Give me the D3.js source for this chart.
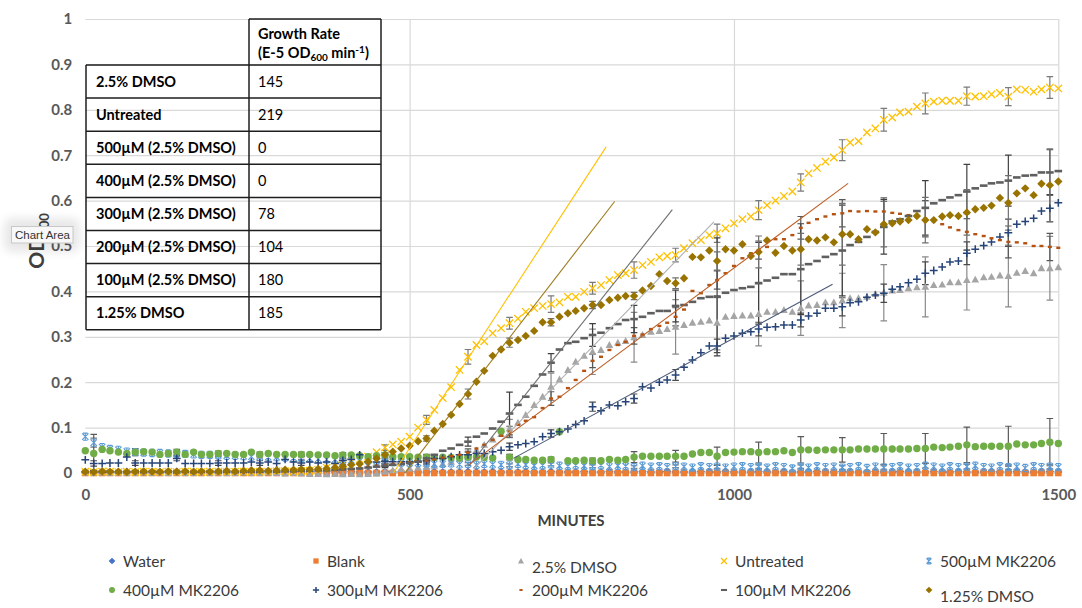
<!DOCTYPE html>
<html><head><meta charset="utf-8">
<script src="https://cdn.jsdelivr.net/npm/d3@7"></script>
<style>
body{margin:0;background:#fff;}
svg{display:block;font-family:Lato,"Open Sans",sans-serif;}
</style></head><body>
<svg id="chart" width="1082" height="608"></svg>
<script>
// sampling times (minutes)
var minutes = [0,13,26,38,51,64,77,90,103,115,
  128,141,154,167,179,192,205,218,231,244,
  256,269,282,295,308,321,333,346,359,372,
  385,397,410,423,436,449,462,474,487,500,
  513,526,538,551,564,577,590,603,615,628,
  641,654,667,679,692,705,718,731,744,756,
  769,782,795,808,821,833,846,859,872,885,
  897,910,923,936,949,962,974,987,1000,1013,
  1026,1038,1051,1064,1077,1090,1103,1115,1128,1141,
  1154,1167,1179,1192,1205,1218,1231,1244,1256,1269,
  1282,1295,1308,1321,1333,1346,1359,1372,1385,1397,
  1410,1423,1436,1449,1462,1474,1487,1500];

var water = [.002,.002,.003,.002,.002,.003,.002,.002,.003,.002,
  .002,.003,.002,.002,.002,.003,.002,.002,.003,.002,
  .002,.002,.003,.002,.002,.003,.002,.002,.002,.003,
  .002,.002,.003,.002,.002,.002,.003,.002,.002,.003,
  .002,.002,.003,.002,.002,.002,.003,.002,.002,.003,
  .002,.002,.002,.003,.002,.002,.003,.002,.002,.002,
  .003,.002,.002,.003,.002,.002,.002,.003,.002,.002,
  .003,.002,.002,.002,.003,.002,.002,.003,.002,.002,
  .002,.003,.002,.002,.003,.002,.002,.002,.003,.002,
  .002,.003,.002,.002,.002,.003,.002,.002,.003,.002,
  .002,.002,.003,.002,.002,.003,.002,.002,.002,.003,
  .002,.002,.003,.002,.002,.002,.003,.002];

var blank = [0,0,0,0,0,0,0,0,0,0, 0,0,0,0,0,0,0,0,0,0,
  0,0,0,0,0,0,0,0,0,0, 0,0,0,0,0,0,0,0,0,0,
  0,0,0,0,0,0,0,0,0,0, 0,0,0,0,0,0,0,0,0,0,
  0,0,0,0,0,0,0,0,0,0, 0,0,0,0,0,0,0,0,0,0,
  0,0,0,0,0,0,0,0,0,0, 0,0,0,0,0,0,0,0,0,0,
  0,0,0,0,0,0,0,0,0,0, 0,0,0,0,0,0,0,0];

var dmso25 = [.001,0,.001,0,.001,0,0,.001,0,.001,
  0,.001,0,0,.001,0,.001,0,0,.001,
  0,0,.001,0,-.001,0,-.001,-.002,-.002,-.003,
  -.002,-.003,-.002,-.003,-.002,-.001,.003,.006,.009,.01,
  .012,.014,.016,.02,.025,.032,.04,.05,.062,.074,
  .086,.098,.111,.128,.15,.168,.19,.206,.227,.245,
  .258,.267,.271,.282,.287,.291,.299,.304,.311,.313,
  .317,.322,.326,.331,.333,.336,.331,.344,.346,.347,
  .347,.35,.355,.355,.359,.355,.363,.369,.37,.376,
  .376,.38,.385,.385,.388,.394,.397,.402,.403,.407,
  .409,.41,.414,.415,.42,.42,.425,.426,.431,.432,
  .435,.434,.441,.445,.44,.451,.451,.453];

var untreated = [.003,.002,.003,.003,.002,.003,.002,.003,.003,.002,
  .003,.002,.003,.003,.002,.003,.003,.002,.003,.003,
  .002,.003,.003,.004,.004,.003,.004,.005,.007,.012,
  .016,.02,.025,.03,.036,.046,.056,.063,.069,.08,
  .10,.117,.139,.165,.189,.227,.256,.282,.29,.308,
  .319,.33,.34,.355,.363,.368,.372,.376,.388,.388,
  .399,.407,.414,.425,.436,.44,.447,.458,.465,.475,
  .478,.48,.495,.506,.513,.524,.528,.539,.55,.559,
  .565,.579,.59,.6,.61,.62,.64,.66,.672,.686,
  .695,.711,.728,.731,.75,.759,.778,.783,.794,.796,
  .807,.814,.818,.82,.82,.82,.83,.829,.83,.834,
  .837,.829,.845,.844,.84,.845,.849,.847];

var mk500 = [.08,.067,.057,.053,.051,.047,.046,.045,.044,.044,
  .043,.042,.042,.041,.04,.04,.039,.038,.038,.037,
  .036,.036,.035,.035,.034,.033,.033,.032,.031,.03,
  .03,.029,.028,.027,.027,.026,.025,.024,.023,.022,
  .022,.021,.02,.02,.021,.019,.02,.018,.02,.019,
  .018,.017,.02,.018,.016,.017,.019,.016,.015,.017,
  .016,.015,.017,.014,.016,.015,.013,.016,.014,.015,
  .013,.015,.014,.012,.015,.013,.014,.012,.014,.015,
  .013,.014,.012,.015,.013,.01,.014,.012,.015,.013,
  .014,.012,.013,.015,.011,.014,.012,.013,.015,.012,
  .013,.016,.014,.012,.015,.013,.014,.016,.013,.012,
  .015,.013,.014,.011,.015,.013,.014,.013];

var mk400 = [.049,.043,.052,.049,.046,.043,.046,.047,.046,.041,
  .043,.046,.041,.046,.041,.041,.043,.043,.041,.041,
  .046,.041,.043,.041,.041,.041,.041,.041,.04,.04,
  .038,.04,.04,.038,.036,.038,.04,.036,.036,.036,
  .035,.035,.034,.035,.034,.033,.035,.035,.034,.033,
  .092,.035,.03,.03,.028,.028,.03,.091,.027,.027,
  .028,.027,.027,.03,.028,.03,.035,.037,.037,.037,
  .037,.037,.037,.042,.045,.045,.037,.045,.046,.047,
  .047,.045,.047,.047,.049,.045,.051,.051,.05,.051,
  .051,.051,.051,.053,.053,.053,.053,.053,.053,.053,
  .054,.054,.057,.056,.057,.059,.062,.058,.059,.059,
  .059,.059,.064,.062,.062,.065,.068,.065];

var mk300 = [.029,.021,.021,.022,.022,.035,.022,.022,.022,.022,
  .022,.032,.021,.021,.021,.021,.022,.022,.022,.022,
  .024,.022,.024,.021,.03,.024,.022,.024,.022,.024,
  .021,.028,.03,.04,.024,.024,.026,.025,.025,.025,
  .025,.027,.032,.032,.036,.04,.04,.043,.043,.047,
  .05,.058,.062,.065,.069,.08,.087,.091,.097,.107,
  .115,.146,.137,.15,.148,.157,.164,.19,.187,.2,
  .205,.216,.233,.249,.265,.28,.28,.297,.302,.308,
  .311,.317,.321,.322,.326,.326,.337,.346,.352,.363,
  .363,.366,.375,.377,.387,.392,.396,.405,.41,.419,
  .427,.44,.446,.454,.465,.467,.484,.493,.501,.509,
  .52,.529,.548,.554,.561,.577,.583,.595];

var mk200 = [.003,.002,.003,.003,.002,.003,.003,.002,.003,.003,
  .003,.002,.003,.003,.003,.002,.003,.003,.004,.003,
  .004,.004,.003,.004,.005,.004,.005,.005,.006,.006,
  .007,.008,.009,.011,.014,.016,.018,.02,.022,.024,
  .025,.027,.03,.034,.037,.04,.045,.054,.062,.073,
  .082,.091,.106,.115,.123,.143,.164,.168,.187,.205,
  .225,.247,.256,.271,.282,.289,.302,.305,.317,.324,
  .331,.344,.36,.401,.396,.414,.425,.44,.456,.473,
  .484,.491,.498,.515,.515,.524,.54,.551,.559,.565,
  .57,.572,.577,.576,.577,.576,.576,.573,.571,.568,
  .564,.56,.555,.548,.541,.535,.531,.526,.522,.517,
  .513,.509,.508,.506,.5,.5,.498,.496];

var mk100 = [.002,.003,.002,.003,.002,.002,.003,.002,.003,.002,
  .003,.002,.003,.002,.003,.003,.002,.003,.002,.003,
  .003,.003,.004,.003,.004,.004,.005,.005,.006,.006,
  .007,.008,.009,.01,.012,.014,.016,.018,.02,.022,
  .025,.032,.04,.049,.054,.062,.069,.08,.087,.098,
  .113,.131,.15,.168,.192,.217,.243,.272,.286,.289,
  .297,.304,.309,.319,.328,.337,.339,.344,.352,.357,
  .357,.368,.37,.377,.385,.388,.388,.397,.403,.407,
  .41,.418,.424,.43,.438,.438,.449,.46,.467,.476,
  .482,.49,.502,.509,.52,.531,.542,.554,.559,.566,
  .577,.584,.594,.601,.607,.612,.62,.627,.633,.638,
  .64,.644,.651,.655,.656,.662,.662,.665];

var dmso125 = [.003,.002,.004,.003,.003,.002,.003,.004,.003,.003,
  .004,.003,.004,.003,.004,.003,.004,.005,.004,.005,
  .006,.006,.005,.006,.007,.007,.008,.008,.009,.01,
  .012,.015,.018,.02,.025,.032,.04,.047,.054,.06,
  .07,.076,.093,.108,.128,.152,.174,.201,.225,.258,
  .272,.287,.293,.302,.313,.332,.332,.344,.352,.357,
  .363,.37,.37,.381,.386,.39,.39,.402,.412,.438,
  .423,.418,.429,.476,.475,.49,.467,.493,.49,.504,
  .478,.487,.512,.485,.5,.49,.493,.515,.512,.519,
  .508,.526,.526,.515,.537,.53,.548,.55,.554,.557,
  .566,.557,.557,.565,.568,.566,.574,.581,.584,.589,
  .606,.595,.616,.627,.612,.637,.634,.642];

// error bars are shown on every 5th reading
var errorAt = [1,6,11,16,21,26,31,36,41,46,51,56,61,66,71,76,81,86,91,96,101,106,111,116];
var errDmso25 = [.002,.002,.002,.002,.002,.002,.002,.003,.005,.008,.02,.03,.05,.055,.06,.06,.07,.06,.06,.062,.066,.066,.068,.07];
var errUntreated = [.004,.004,.004,.004,.004,.004,.004,.006,.01,.016,.013,.018,.013,.018,.015,.02,.021,.019,.023,.025,.023,.02,.02,.024];
var errMk500 = [.01,.004,.004,.003,.003,.003,.003,.003,.003,.003,.003,.003,.003,.003,.003,.004,.004,.004,.004,.004,.005,.005,.005,.005];
var errMk400 = [.042,.008,.006,.005,.005,.005,.005,.005,.006,.005,.006,.005,.006,.012,.013,.02,.023,.029,.027,.034,.033,.039,.044,.052];
var errMk300 = [.006,.005,.005,.005,.005,.005,.005,.005,.005,.006,.008,.008,.01,.01,.012,.015,.015,.015,.02,.02,.025,.025,.03,.03];
var errMk200 = [.002,.002,.002,.002,.002,.002,.002,.003,.005,.008,.012,.015,.015,.018,.02,.02,.02,.025,.03,.03,.04,.04,.035,.03];
var errMk100 = [.003,.003,.003,.003,.003,.003,.003,.004,.006,.01,.047,.02,.025,.03,.035,.13,.09,.1,.1,.06,.06,.06,.056,.05];
var errDmso125 = [.003,.003,.003,.003,.003,.003,.004,.005,.006,.011,.01,.008,.008,.008,.012,.02,.035,.035,.068,.05,.05,.05,.06,.08];

var seriesNames = ['Water','Blank','2.5% DMSO','Untreated','500µM MK2206','400µM MK2206','300µM MK2206','200µM MK2206','100µM MK2206','1.25% DMSO'];

// linear trendlines (OD = slope*min + intercept) over the exponential phase
var trendNames = ['Untreated','1.25% DMSO','100µM MK2206','2.5% DMSO','200µM MK2206','300µM MK2206'];
var trendSlope = [.00219,.00185,.0018,.00147,.00106,.00078];
var trendIntercept = [-1.0403,-.9116,-1.049,-.8714,-.6085,-.4826];
var trendFrom = [475,493,591,599,591,660];
var trendTo = [803,816,905,969,1176,1152];

// growth-rate table
var tableRows = ['2.5% DMSO','Untreated','500µM (2.5% DMSO)','400µM (2.5% DMSO)','300µM (2.5% DMSO)','200µM (2.5% DMSO)','100µM (2.5% DMSO)','1.25% DMSO'];
var tableRates = ['145','219','0','0','78','104','180','185'];

var yTicks = [0,.1,.2,.3,.4,.5,.6,.7,.8,.9,1];
var xTicks = [0,500,1000,1500];

var style = {
  'Water':        {shape:'diamond', color:'#4472C4', values:water, err:null},
  'Blank':        {shape:'square', color:'#ED7D31', values:blank, err:null},
  '2.5% DMSO':    {shape:'triangle', color:'#A5A5A5', values:dmso25, err:errDmso25, ec:'#8a8a8a'},
  'Untreated':    {shape:'x', color:'#FFC000', values:untreated, err:errUntreated, ec:'#7a7a7a'},
  '500µM MK2206': {shape:'star', color:'#5B9BD5', values:mk500, err:errMk500, ec:'#7a7a7a'},
  '400µM MK2206': {shape:'circle', color:'#70AD47', values:mk400, err:errMk400, ec:'#595959'},
  '300µM MK2206': {shape:'plus', color:'#264478', values:mk300, err:errMk300, ec:'#4a4a4a'},
  '200µM MK2206': {shape:'smalldash', color:'#B5520F', values:mk200, err:errMk200, ec:'#595959'},
  '100µM MK2206': {shape:'dash', color:'#5f5f5f', values:mk100, err:errMk100, ec:'#404040'},
  '1.25% DMSO':   {shape:'diamond', color:'#997300', values:dmso125, err:errDmso125, ec:'#707070'}
};
var trendColor = {
  'Untreated':'#FFC000','1.25% DMSO':'#9C7A1C','100µM MK2206':'#6e6e6e',
  '2.5% DMSO':'#b0b0b0','200µM MK2206':'#BE5F25','300µM MK2206':'#4a5a78'
};

var plotL = 85.3, plotR = 1058.3, plotT = 19, plotB = 473;
var x = d3.scaleLinear().domain([0,1500]).range([plotL,plotR]);
var y = d3.scaleLinear().domain([0,1]).range([plotB,plotT]);
var svg = d3.select('#chart');

// gridlines
var gy = svg.append('g').attr('transform','translate('+plotL+',0)')
  .call(d3.axisLeft(y).tickValues(yTicks).tickSize(-(plotR-plotL)).tickFormat(''));
var gx = svg.append('g').attr('transform','translate(0,'+plotB+')')
  .call(d3.axisBottom(x).tickValues([500,1000,1500]).tickSize(-(plotB-plotT)).tickFormat(''));
[gy,gx].forEach(function(g){
  g.select('.domain').remove();
  g.selectAll('line').attr('stroke','#d9d9d9').attr('stroke-width',1.2);
});

// tick labels
var ly = svg.append('g').attr('transform','translate('+plotL+',0)')
  .call(d3.axisLeft(y).tickValues(yTicks).tickSize(0).tickPadding(13)
    .tickFormat(function(d){ return d===0 ? '0' : d===1 ? '1' : d3.format('.1f')(d); }));
var lx = svg.append('g').attr('transform','translate(0,'+plotB+')')
  .call(d3.axisBottom(x).tickValues(xTicks).tickSize(0).tickPadding(16).tickFormat(d3.format('d')));
[ly,lx].forEach(function(g){
  g.select('.domain').remove();
  g.selectAll('text').attr('fill','#595959').attr('font-size','15px')
    .attr('font-weight','bold').attr('font-family','Lato, sans-serif');
});

// axis titles
svg.append('text').attr('x',571).attr('y',526).attr('text-anchor','middle')
  .attr('font-size','15px').attr('font-weight','bold').attr('fill','#404040').text('MINUTES');
var yl = svg.append('text').attr('transform','translate(43.5,241) rotate(-90)')
  .attr('text-anchor','middle').attr('font-size','21px').attr('font-weight','bold').attr('fill','#404040');
yl.append('tspan').text('OD');
yl.append('tspan').attr('font-size','13px').attr('dy',5).text('600');

// markers
function drawMarker(g, shape, color, s) {
  if (shape === 'diamond') {
    g.append('path').attr('d','M0,'+(-4.2*s)+'L'+(4.2*s)+',0L0,'+(4.2*s)+'L'+(-4.2*s)+',0Z').attr('fill',color);
  } else if (shape === 'square') {
    g.append('rect').attr('x',-3.3*s).attr('y',-3.3*s).attr('width',6.6*s).attr('height',6.6*s).attr('fill',color);
  } else if (shape === 'triangle') {
    g.append('path').attr('d','M0,'+(-3.9*s)+'L'+(3.8*s)+','+(3*s)+'L'+(-3.8*s)+','+(3*s)+'Z').attr('fill',color);
  } else if (shape === 'x') {
    g.append('path').attr('d','M'+(-3.7*s)+','+(-3.7*s)+'L'+(3.7*s)+','+(3.7*s)+'M'+(-3.7*s)+','+(3.7*s)+'L'+(3.7*s)+','+(-3.7*s))
      .attr('stroke',color).attr('stroke-width',1.3).attr('fill','none');
  } else if (shape === 'star') {
    g.append('path').attr('d','M'+(-3.2*s)+','+(-3.2*s)+'L'+(3.2*s)+','+(3.2*s)+'M'+(-3.2*s)+','+(3.2*s)+'L'+(3.2*s)+','+(-3.2*s)+'M0,'+(-3.6*s)+'L0,'+(3.6*s)
      +'M'+(-2.3*s)+','+(-3.6*s)+'L'+(2.3*s)+','+(-3.6*s)+'M'+(-2.3*s)+','+(3.6*s)+'L'+(2.3*s)+','+(3.6*s))
      .attr('stroke',color).attr('stroke-width',1.1).attr('fill','none');
  } else if (shape === 'circle') {
    g.append('circle').attr('r',3.7*s).attr('fill',color);
  } else if (shape === 'plus') {
    g.append('path').attr('d','M'+(-3.9*s)+',0L'+(3.9*s)+',0M0,'+(-3.9*s)+'L0,'+(3.9*s))
      .attr('stroke',color).attr('stroke-width',1.5).attr('fill','none');
  } else if (shape === 'smalldash') {
    g.append('rect').attr('x',-2*s).attr('y',-1.2*s).attr('width',4*s).attr('height',2.4*s).attr('fill',color);
  } else if (shape === 'dash') {
    g.append('rect').attr('x',-3.8*s).attr('y',-1.3*s).attr('width',7.6*s).attr('height',2.6*s).attr('fill',color);
  }
}

// error bars
var errG = svg.append('g');
seriesNames.forEach(function(name){
  var st = style[name];
  if (!st.err) return;
  var bars = errorAt.map(function(k,j){ return {t:minutes[k], v:st.values[k], e:st.err[j]}; });
  var g = errG.append('g').attr('stroke',st.ec).attr('stroke-width',1.2);
  g.selectAll('.eb').data(bars).join('path')
    .attr('d',function(d){
      var cx = x(d.t), y0 = y(d.v - d.e), y1 = y(d.v + d.e);
      return 'M'+cx+','+y0+'L'+cx+','+y1+'M'+(cx-3.3)+','+y0+'L'+(cx+3.3)+','+y0+'M'+(cx-3.3)+','+y1+'L'+(cx+3.3)+','+y1;
    }).attr('fill','none');
});

// points
seriesNames.forEach(function(name){
  var st = style[name];
  var pts = minutes.map(function(t,i){ return {t:t, v:st.values[i]}; });
  svg.append('g').selectAll('g').data(pts).join('g')
    .attr('transform',function(d){ return 'translate('+x(d.t)+','+y(d.v)+')'; })
    .each(function(){ drawMarker(d3.select(this), st.shape, st.color, 1); });
});

// trendlines
var line = d3.line().x(function(d){ return x(d[0]); }).y(function(d){ return y(d[1]); });
trendNames.forEach(function(name,i){
  var pts = [trendFrom[i], trendTo[i]].map(function(t){ return [t, trendSlope[i]*t + trendIntercept[i]]; });
  svg.append('path').attr('d',line(pts)).attr('stroke',trendColor[name])
    .attr('stroke-width',1.1).attr('fill','none');
});

// table
var tb = svg.append('g').attr('font-size','14.5px').attr('fill','#000');
var tL = 86, tM = 249, tR = 381, tTop = 19, rowTop = 65, rowH = 33.1;
var tableLine = function(x1,y1,x2,y2){
  tb.append('line').attr('x1',x1).attr('y1',y1).attr('x2',x2).attr('y2',y2)
    .attr('stroke','#1e1e1e').attr('stroke-width',1.5);
};
tableLine(tM,tTop,tR,tTop);
tableLine(tM,tTop,tM,rowTop+rowH*tableRows.length);
tableLine(tR,tTop,tR,rowTop+rowH*tableRows.length);
tableLine(tL,rowTop,tL,rowTop+rowH*tableRows.length);
for (var r=0; r<=tableRows.length; r++) tableLine(tL,rowTop+rowH*r,tR,rowTop+rowH*r);
tb.append('text').attr('x',258).attr('y',38.5).attr('font-weight','bold').text('Growth Rate');
var h2 = tb.append('text').attr('x',258).attr('y',58).attr('font-weight','bold');
h2.append('tspan').text('(E-5 OD');
h2.append('tspan').attr('font-size','10px').attr('dy',3).text('600');
h2.append('tspan').attr('dy',-3).text(' min');
h2.append('tspan').attr('font-size','10px').attr('dy',-5).text('-1');
h2.append('tspan').attr('dy',5).text(')');
tb.selectAll('.rl').data(tableRows).join('text')
  .attr('x',96).attr('y',function(d,i){ return rowTop+rowH*i+21.5; })
  .attr('font-weight','bold').text(function(d){ return d; });
tb.selectAll('.rv').data(tableRates).join('text')
  .attr('x',258).attr('y',function(d,i){ return rowTop+rowH*i+21.5; })
  .text(function(d){ return d; });

// legend
var legX = [112,316,521,724,929], legY = [561,590];
var lg = svg.append('g');
seriesNames.forEach(function(name,i){
  var cx = legX[i%5], cy = legY[Math.floor(i/5)];
  var m = lg.append('g').attr('transform','translate('+cx+','+cy+')');
  drawMarker(m, style[name].shape, style[name].color, 0.8);
  var drop = (name === '2.5% DMSO' || name === '1.25% DMSO') ? 6 : 0;
  lg.append('text').attr('x',cx+11).attr('y',cy+5.5+drop).attr('font-size','15.5px')
    .attr('fill','#3a3a3a').text(name);
});

// "Chart Area" hover tooltip
var defs = svg.append('defs');
defs.append('filter').attr('id','glow').attr('x','-50%').attr('y','-50%').attr('width','200%').attr('height','200%')
  .append('feGaussianBlur').attr('stdDeviation',5);
svg.append('rect').attr('x',4).attr('y',218).attr('width',76).attr('height',34).attr('rx',8)
  .attr('fill','#000').attr('opacity',0.09).attr('filter','url(#glow)');
svg.append('rect').attr('x',11.5).attr('y',226.5).attr('width',61.5).attr('height',16.5)
  .attr('fill','#f8f8f8').attr('stroke','#c8c8c8').attr('stroke-width',1);
svg.append('text').attr('x',15).attr('y',239).attr('font-size','11.5px')
  .attr('font-family','"Liberation Sans", Arial, sans-serif').attr('fill','#333').text('Chart Area');
</script>
</body></html>
